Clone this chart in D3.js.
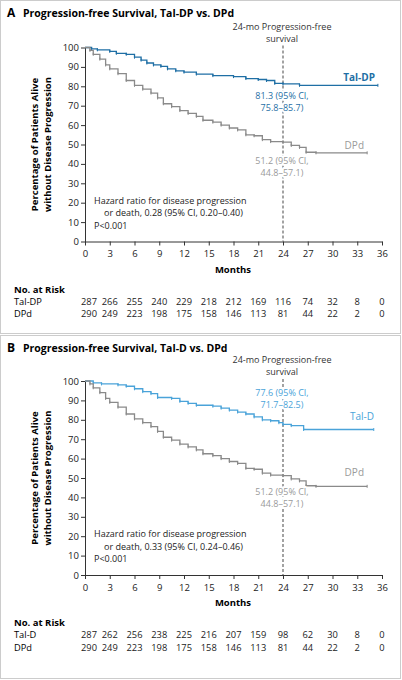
<!DOCTYPE html><html><head><meta charset="utf-8">
<script src="https://cdn.jsdelivr.net/npm/d3@7"></script>
<style>body{margin:0;background:#fff}svg{font-family:"Open Sans","Noto Sans",sans-serif}.halo{paint-order:stroke;stroke:#fff;stroke-width:4px;stroke-linejoin:round}</style></head><body>
<svg id="c" width="402" height="680"></svg>
<script>
const monthTicks=[0,3,6,9,12,15,18,21,24,27,30,33,36];
const yTicks=[0,10,20,30,40,50,60,70,80,90,100];
const talDP=[[0,100],[0.8,99.3],[1.5,98.8],[3,98],[3.8,97],[5,96.5],[6,95],[6.8,93.5],[7.5,92],[8.3,91],[9.2,90.3],[10,89],[11,88],[12,87.3],[13.5,86.3],[15.5,85.5],[18,85],[19.5,84],[21,83.5],[22,83],[23,81.5],[24,81.3],[26,80.5],[35.5,80.5]];
const dpd=[[0,100],[0.6,98.5],[1,96.5],[1.8,94],[2.5,91],[3,89],[4,86.5],[5,83],[6,80.5],[7,78.5],[8,76.5],[8.8,74],[9.5,71],[10.5,69.5],[11.5,67.5],[12.5,66],[13.5,64.5],[14.3,62.5],[15.5,61.5],[16.5,60],[17.5,58.5],[18.5,57.5],[19.5,55],[20.5,54.5],[21.5,52.5],[22.5,51.5],[24,51.2],[25,49.5],[26,48.5],[26.8,46],[28,45.7],[34.2,45.7]];
const talD=[[0,100],[1,99],[2,98.5],[4,98],[5,97.3],[6,96],[7,94.5],[8,93.5],[8.8,91.5],[10.5,91],[11.5,89.5],[12.5,88.5],[13.5,87.5],[15.5,87],[16.5,86],[17.5,85],[18.5,84],[19.5,83],[20.5,81.5],[21.5,80],[22.5,79.5],[23.5,78.5],[24,77.6],[25,77],[26.5,75],[35,75]];
const riskA={"Tal-DP":[287,266,255,240,229,218,212,169,116,74,32,8,0],"DPd":[290,249,223,198,175,158,146,113,81,44,22,2,0]};
const riskB={"Tal-D":[287,262,256,238,225,216,207,159,98,62,30,8,0],"DPd":[290,249,223,198,175,158,146,113,81,44,22,2,0]};
const blueA="#1f6fa5",blueB="#4aa3d9",gray="#8a8a8a",grayLbl="#9a9a9a";
const svg=d3.select("#c");
function panel(o){
  const g=svg.append("g").attr("transform",`translate(0,${o.top})`);
  g.append("rect").attr("x",0.5).attr("y",0.5).attr("width",400).attr("height",o.h).attr("fill","none").attr("stroke","#ccc");
  g.append("text").attr("x",7).attr("y",17).attr("font-size",12).attr("font-weight","bold").text(o.letter);
  g.append("text").attr("x",23).attr("y",17).attr("font-size",10.5).attr("font-weight","bold").text(o.title);
  const x=d3.scaleLinear().domain([0,36]).range([85,382]);
  const y=d3.scaleLinear().domain([0,100]).range([o.y0,o.y100]);
  const ax=g.append("g").attr("transform",`translate(0,${o.y0})`).call(d3.axisBottom(x).tickValues(monthTicks).tickSize(4).tickSizeOuter(0));
  const ay=g.append("g").attr("transform",`translate(85,0)`).call(d3.axisLeft(y).tickValues(yTicks).tickSize(4).tickSizeOuter(0));
  [ax,ay].forEach(a=>{a.selectAll("text").attr("font-size",9.5).attr("fill","#222").style("font-family","'Open Sans',sans-serif");a.selectAll("line,path").attr("stroke","#333");});
  ax.selectAll("text").attr("dy","0.9em");ay.selectAll("text").attr("dx","0.1em");
  g.append("text").attr("x",233).attr("y",o.y0+31).attr("text-anchor","middle").attr("font-size",9.5).attr("font-weight","bold").text("Months");
  const yl=g.append("text").attr("transform",`translate(38,${(o.y0+o.y100)/2}) rotate(-90)`).attr("text-anchor","middle").attr("font-size",9.5).attr("font-weight","bold");
  yl.append("tspan").attr("x",0).attr("dy",0).text("Percentage of Patients Alive");
  yl.append("tspan").attr("x",0).attr("dy",13).text("without Disease Progression");
  g.append("line").attr("x1",x(24)).attr("x2",x(24)).attr("y1",o.y100-2).attr("y2",o.y0).attr("stroke","#666").attr("stroke-width",1.2).attr("stroke-dasharray","3,2");
  g.append("text").attr("x",282).attr("y",o.y100-18).attr("text-anchor","middle").attr("font-size",9).attr("fill","#333").text("24-mo Progression-free");
  g.append("text").attr("x",282).attr("y",o.y100-6).attr("text-anchor","middle").attr("font-size",9).attr("fill","#333").text("survival");
  const line=d3.line().x(d=>x(d[0])).y(d=>y(d[1])).curve(d3.curveStepAfter);
  o.series.forEach(s=>{
    g.append("path").datum(s.data).attr("d",line).attr("fill","none").attr("stroke",s.color).attr("stroke-width",1.3);
    g.selectAll(null).data(s.data.slice(1)).join("line").attr("x1",d=>x(d[0])).attr("x2",d=>x(d[0])).attr("y1",d=>y(d[1])-1.5).attr("y2",d=>y(d[1])+1.5).attr("stroke",s.color).attr("stroke-width",1);
    g.append("text").attr("x",s.lx).attr("y",s.ly).attr("text-anchor","end").attr("font-size",10).attr("font-weight",s.bold?"bold":"normal").attr("fill",s.lc).text(s.name);
    g.append("text").attr("class","halo").attr("x",282).attr("y",s.cy).attr("text-anchor","middle").attr("font-size",9).attr("fill",s.lc).text(s.ci1);
    g.append("text").attr("class","halo").attr("x",282).attr("y",s.cy+12).attr("text-anchor","middle").attr("font-size",9).attr("fill",s.lc).text(s.ci2);
  });
  [[94,"Hazard ratio for disease progression"],[104,"or death, "+o.hr],[94,"P<0.001"]].forEach((t,i)=>g.append("text").attr("x",t[0]).attr("y",o.y0-38+i*12.5).attr("font-size",9).attr("fill","#222").text(t[1]));
  g.append("text").attr("x",14).attr("y",o.y0+51).attr("font-size",9.5).attr("font-weight","bold").text("No. at Risk");
  Object.entries(o.risk).forEach(([k,v],i)=>{
    const yy=o.y0+63+i*12.5;
    g.append("text").attr("x",14).attr("y",yy).attr("font-size",9.3).text(k);
    g.selectAll(null).data(v).join("text").attr("x",(d,j)=>x(monthTicks[j])+(j==0?4:0)).attr("y",yy).attr("text-anchor","middle").attr("font-size",9.3).attr("fill","#222").text(d=>d);
  });
}
panel({top:0,h:333,letter:"A",title:"Progression-free Survival, Tal-DP vs. DPd",y0:241.5,y100:47.5,hr:"0.28 (95% CI, 0.20–0.40)",risk:riskA,
 series:[{name:"Tal-DP",data:talDP,color:blueA,lc:blueA,bold:true,lx:375,ly:81,cy:99,ci1:"81.3 (95% CI,",ci2:"75.8–85.7)"},
         {name:"DPd",data:dpd,color:gray,lc:grayLbl,bold:false,lx:364,ly:149,cy:164,ci1:"51.2 (95% CI,",ci2:"44.8–57.1)"}]});
panel({top:335,h:343,letter:"B",title:"Progression-free Survival, Tal-D vs. DPd",y0:240,y100:46,hr:"0.33 (95% CI, 0.24–0.46)",risk:riskB,
 series:[{name:"Tal-D",data:talD,color:blueB,lc:blueB,bold:false,lx:374,ly:85,cy:61,ci1:"77.6 (95% CI,",ci2:"71.7–82.5)"},
         {name:"DPd",data:dpd,color:gray,lc:grayLbl,bold:false,lx:364,ly:141,cy:160,ci1:"51.2 (95% CI,",ci2:"44.8–57.1)"}]});
</script></body></html>
